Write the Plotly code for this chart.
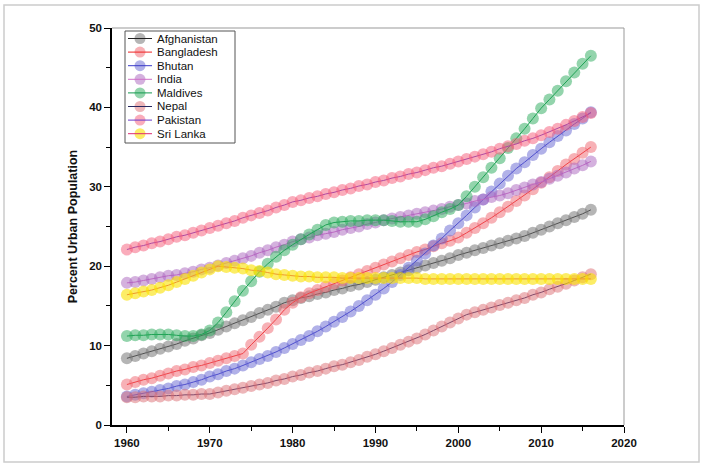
import plotly.graph_objects as go

years = list(range(1960, 2017))

afghanistan = [8.4, 8.7, 9.0, 9.3, 9.6, 9.9, 10.2, 10.6, 10.9, 11.3,
               11.6, 12.0, 12.4, 12.8, 13.2, 13.6, 14.1, 14.5, 14.9, 15.4,
               15.7, 16.0, 16.2, 16.5, 16.7, 17.0, 17.2, 17.5, 17.7, 18.0,
               18.3, 18.6, 18.9, 19.2, 19.5, 19.8, 20.1, 20.4, 20.7, 21.0,
               21.4, 21.7, 22.0, 22.3, 22.6, 22.9, 23.2, 23.5, 23.8, 24.2,
               24.6, 25.0, 25.4, 25.8, 26.2, 26.6, 27.1]
bangladesh = [5.1, 5.4, 5.7, 5.9, 6.2, 6.5, 6.8, 7.0, 7.3, 7.5,
              7.8, 8.1, 8.4, 8.7, 9.0, 10.1, 11.1, 12.2, 13.3, 14.5,
              15.4, 16.1, 16.6, 17.0, 17.4, 17.8, 18.2, 18.6, 19.0, 19.4,
              19.8, 20.2, 20.6, 21.0, 21.4, 21.8, 22.1, 22.5, 22.9, 23.2,
              23.6, 24.2, 24.8, 25.4, 26.1, 26.8, 27.5, 28.2, 28.9, 29.7,
              30.5, 31.2, 32.0, 32.8, 33.5, 34.3, 35.0]
bhutan = [3.6, 3.8, 4.0, 4.2, 4.4, 4.6, 4.9, 5.1, 5.4, 5.7,
          6.1, 6.4, 6.8, 7.1, 7.5, 7.9, 8.3, 8.7, 9.2, 9.7,
          10.2, 10.7, 11.2, 11.8, 12.4, 13.0, 13.6, 14.3, 15.0, 15.7,
          16.4, 17.2, 18.0, 18.9, 19.8, 20.7, 21.6, 22.6, 23.5, 24.5,
          25.4, 26.4, 27.4, 28.4, 29.4, 30.4, 31.4, 32.3, 33.1, 34.0,
          34.8, 35.6, 36.4, 37.1, 37.9, 38.6, 39.4]
india = [17.9, 18.0, 18.2, 18.4, 18.6, 18.8, 18.9, 19.1, 19.3, 19.6,
         19.8, 20.1, 20.4, 20.7, 21.0, 21.3, 21.7, 22.0, 22.4, 22.7,
         23.1, 23.4, 23.6, 23.9, 24.1, 24.3, 24.6, 24.8, 25.0, 25.3,
         25.5, 25.8, 26.0, 26.2, 26.4, 26.6, 26.8, 27.0, 27.2, 27.5,
         27.7, 27.9, 28.2, 28.4, 28.7, 28.9, 29.2, 29.6, 29.9, 30.3,
         30.6, 31.0, 31.4, 31.8, 32.3, 32.7, 33.2]
maldives = [11.2, 11.3, 11.3, 11.4, 11.4, 11.4, 11.3, 11.2, 11.2, 11.4,
            11.9, 12.9, 14.2, 15.6, 16.9, 18.1, 19.3, 20.3, 21.2, 22.0,
            22.7, 23.4, 24.0, 24.6, 25.2, 25.5, 25.6, 25.7, 25.7, 25.8,
            25.8, 25.8, 25.7, 25.6, 25.6, 25.6, 25.9, 26.3, 26.8, 27.2,
            27.7, 28.8, 30.0, 31.2, 32.4, 33.6, 34.9, 36.1, 37.3, 38.6,
            39.9, 41.0, 42.1, 43.3, 44.4, 45.5, 46.5]
nepal = [3.5, 3.5, 3.6, 3.6, 3.6, 3.7, 3.7, 3.8, 3.8, 3.9,
         3.9, 4.1, 4.3, 4.5, 4.7, 4.9, 5.1, 5.3, 5.6, 5.8,
         6.1, 6.3, 6.6, 6.8, 7.1, 7.4, 7.6, 7.9, 8.2, 8.6,
         8.9, 9.3, 9.7, 10.1, 10.5, 10.9, 11.4, 11.9, 12.4, 12.9,
         13.4, 13.9, 14.2, 14.5, 14.8, 15.1, 15.4, 15.7, 16.0, 16.4,
         16.7, 17.1, 17.4, 17.8, 18.2, 18.6, 19.0]
pakistan = [22.1, 22.4, 22.6, 22.9, 23.1, 23.4, 23.7, 23.9, 24.2, 24.5,
            24.8, 25.1, 25.4, 25.7, 26.1, 26.4, 26.7, 27.0, 27.4, 27.7,
            28.1, 28.3, 28.6, 28.8, 29.1, 29.3, 29.6, 29.8, 30.1, 30.3,
            30.6, 30.8, 31.1, 31.3, 31.6, 31.8, 32.1, 32.4, 32.6, 32.9,
            33.2, 33.5, 33.8, 34.1, 34.4, 34.8, 35.1, 35.4, 35.8, 36.1,
            36.5, 36.9, 37.3, 37.8, 38.3, 38.8, 39.3]
sri_lanka = [16.4, 16.6, 16.8, 17.0, 17.3, 17.6, 18.0, 18.4, 18.8, 19.2,
             19.6, 20.0, 19.9, 19.8, 19.7, 19.5, 19.4, 19.2, 19.0, 18.9,
             18.8, 18.7, 18.7, 18.6, 18.6, 18.6, 18.5, 18.5, 18.5, 18.5,
             18.5, 18.5, 18.5, 18.5, 18.5, 18.5, 18.4, 18.4, 18.4, 18.4,
             18.4, 18.4, 18.4, 18.4, 18.4, 18.4, 18.4, 18.4, 18.4, 18.4,
             18.4, 18.4, 18.4, 18.4, 18.4, 18.4, 18.4]

names = ["Afghanistan", "Bangladesh", "Bhutan", "India", "Maldives",
         "Nepal", "Pakistan", "Sri Lanka"]
series = [afghanistan, bangladesh, bhutan, india, maldives, nepal, pakistan, sri_lanka]
marker_colors = ["rgba(120,120,120,0.55)", "rgba(240,100,110,0.5)", "rgba(100,100,210,0.5)",
                 "rgba(170,100,190,0.5)", "rgba(40,170,90,0.5)", "rgba(220,110,115,0.5)",
                 "rgba(245,90,120,0.5)", "rgba(250,225,0,0.6)"]
line_colors = ["#222222", "#ee2222", "#3a3ac8", "#d070c8", "#149a50",
               "#26265e", "#6a3acb", "#dd2a70"]

W, H = 704, 468
ML, MR, MT, MB = 112, 80, 28, 43
PW, PH = W - ML - MR, H - MT - MB


def px(x):
    return (x - ML) / PW


def py(y):
    return (H - MB - y) / PH


fig = go.Figure()
for n, s, mc, lc in zip(names, series, marker_colors, line_colors):
    fig.add_trace(go.Scatter(
        x=years, y=s, name=n, mode="lines+markers", showlegend=False,
        line=dict(color=lc, width=1),
        marker=dict(size=12, color=mc, line=dict(width=0)),
    ))

font_family = "Arial, Liberation Sans, sans-serif"

# legend drawn manually (compact like the reference)
shapes = [
    dict(type="line", xref="paper", yref="paper", x0=0, x1=1, y0=1, y1=1,
         line=dict(color="#999", width=1)),
    dict(type="line", xref="paper", yref="paper", x0=1, x1=1, y0=0, y1=1,
         line=dict(color="#999", width=1)),
    dict(type="rect", xref="paper", yref="paper", x0=px(4), x1=px(699),
         y0=py(462), y1=py(5), line=dict(color="#cccccc", width=1.5)),
    dict(type="rect", xref="paper", yref="paper", x0=px(125), x1=px(235),
         y0=py(143), y1=py(31), line=dict(color="#555", width=1),
         fillcolor="white", layer="above"),
]
annotations = []
for i, (n, mc, lc) in enumerate(zip(names, marker_colors, line_colors)):
    yc = 38.5 + 13.6 * i
    shapes.append(dict(type="circle", xref="paper", yref="paper",
                       x0=px(134.5), x1=px(145.5), y0=py(yc + 5.5), y1=py(yc - 5.5),
                       fillcolor=mc, line=dict(width=0), layer="above"))
    shapes.append(dict(type="line", xref="paper", yref="paper",
                       x0=px(128), x1=px(152), y0=py(yc), y1=py(yc),
                       line=dict(color=lc, width=1), layer="above"))
    annotations.append(dict(text=n, xref="paper", yref="paper", x=px(155), y=py(yc),
                            xanchor="left", yanchor="middle", showarrow=False,
                            font=dict(size=11.5, family=font_family, color="#111")))

fig.update_layout(
    width=W, height=H,
    margin=dict(l=ML, r=MR, t=MT, b=MB),
    paper_bgcolor="white", plot_bgcolor="white",
    font=dict(family=font_family, size=11, color="#111"),
    showlegend=False,
    xaxis=dict(range=[1958.2, 2020], tickmode="array",
               tickvals=[1960, 1970, 1980, 1990, 2000, 2010, 2020],
               showgrid=False, zeroline=False, showline=True,
               linecolor="black", linewidth=1.5, ticks="outside",
               ticklen=6, tickwidth=1.3, tickcolor="black",
               tickfont=dict(size=11.5, family=font_family, weight="bold"),
               minor=dict(tickvals=[1965, 1975, 1985, 1995, 2005, 2015],
                          ticks="outside", ticklen=4, tickwidth=1.2, tickcolor="black")),
    yaxis=dict(range=[0, 50], tickmode="array",
               tickvals=[0, 10, 20, 30, 40, 50],
               showgrid=False, zeroline=False, showline=True,
               linecolor="black", linewidth=1.5, ticks="outside",
               ticklen=6, tickwidth=1.3, tickcolor="black",
               tickfont=dict(size=11.5, family=font_family, weight="bold"),
               title=dict(text="<b>Percent Urban Population</b>",
                          font=dict(size=12.5, family=font_family), standoff=9),
               minor=dict(tickvals=[5, 15, 25, 35, 45],
                          ticks="outside", ticklen=4, tickwidth=1.2, tickcolor="black")),
    shapes=shapes,
    annotations=annotations,
)

fig.write_html("out.html", config={"displayModeBar": False},
               post_script="document.body.style.margin='0px';document.body.style.overflow='hidden';")
